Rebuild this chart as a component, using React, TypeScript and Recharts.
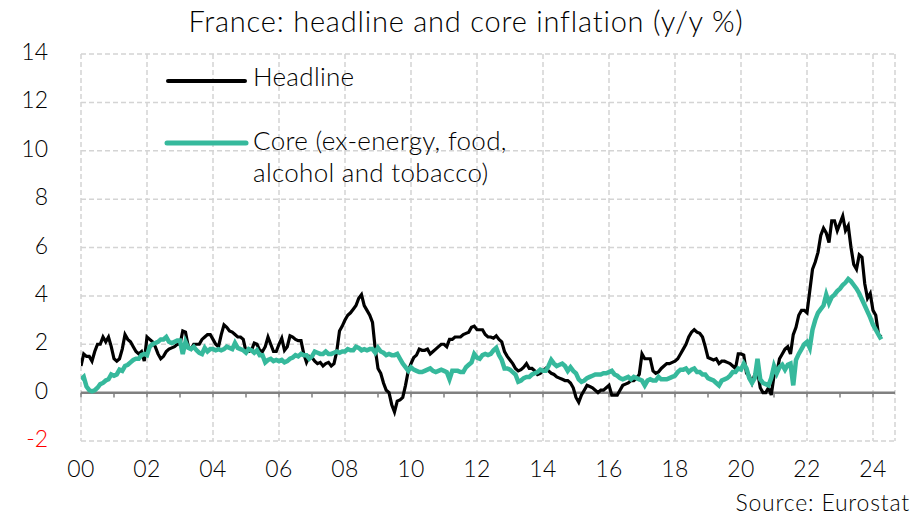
import React from 'react';
import { LineChart, Line, XAxis, YAxis, CartesianGrid, ReferenceLine, Legend } from 'recharts';

const startYear = 2000;

const headline = [
  1.1, 1.6, 1.5, 1.5, 1.3, 1.7, 2.0, 2.0, 2.3, 2.1, 2.3, 1.9,
  1.4, 1.3, 1.4, 1.8, 2.4, 2.2, 2.1, 1.9, 1.7, 1.6, 1.7, 1.3,
  2.3, 2.2, 2.1, 1.9, 1.6, 1.4, 1.5, 1.7, 1.8, 1.85, 1.9, 2.0,
  2.0, 2.55, 2.5, 1.9, 1.8, 2.0, 2.0, 2.0, 2.2, 2.3, 2.4, 2.4,
  2.2, 2.0, 1.9, 2.4, 2.8, 2.7, 2.55, 2.5, 2.4, 2.3, 2.3, 2.2,
  1.7, 1.7, 1.75, 2.05, 2.0, 1.75, 1.7, 1.9, 2.3, 2.0, 1.7, 1.7,
  2.0, 2.25, 1.75, 1.9, 2.35, 2.3, 2.2, 2.15, 2.15, 1.6, 1.25, 1.5,
  1.45, 1.3, 1.2, 1.25, 1.1, 1.2, 1.25, 1.1, 1.2, 1.7, 2.55, 2.75,
  3.0, 3.2, 3.3, 3.45, 3.6, 3.9, 4.05, 3.6, 3.4, 3.2, 2.9, 1.8,
  1.0, 0.8, 0.4, 0.1, 0.0, -0.5, -0.8, -0.35, -0.3, -0.2, 0.3, 0.9,
  1.2, 1.45, 1.55, 1.8, 1.75, 1.75, 1.8, 1.6, 1.7, 1.8, 1.9, 2.0,
  2.0, 1.9, 2.2, 2.2, 2.3, 2.3, 2.3, 2.4, 2.45, 2.5, 2.7, 2.75,
  2.6, 2.6, 2.6, 2.4, 2.3, 2.3, 2.25, 2.35, 2.2, 2.1, 1.7, 1.5,
  1.35, 1.2, 1.0, 0.9, 0.95, 1.05, 1.2, 1.0, 1.0, 0.9, 0.75, 0.8,
  0.9, 1.0, 0.9, 0.8, 0.75, 0.65, 0.6, 0.55, 0.5, 0.5, 0.4, 0.2,
  -0.2, -0.4, -0.1, 0.1, 0.3, 0.25, 0.2, 0.1, 0.0, 0.1, 0.1, 0.2,
  0.3, -0.1, -0.1, -0.1, 0.1, 0.3, 0.35, 0.4, 0.5, 0.5, 0.6, 0.75,
  1.6, 1.4, 1.4, 1.4, 0.9, 0.8, 0.85, 1.0, 1.1, 1.2, 1.2, 1.25,
  1.3, 1.4, 1.6, 1.8, 2.0, 2.3, 2.5, 2.6, 2.5, 2.45, 2.3, 1.9,
  1.45, 1.4, 1.35, 1.4, 1.2, 1.3, 1.3, 1.25, 1.2, 1.1, 1.0, 1.6,
  1.6, 1.55, 0.8, 0.7, 0.4, 0.75, 0.9, 0.2, 0.0, 0.0, 0.2, -0.1,
  0.7, 0.8, 1.4, 1.6, 1.8, 1.9, 1.6, 2.4, 2.7, 3.2, 3.4, 3.4,
  3.3, 4.2, 5.1, 5.4, 5.8, 6.5, 6.8, 6.6, 6.2, 7.1, 7.1, 6.7,
  7.0, 7.3, 6.7, 6.9, 6.0, 5.3, 5.1, 5.7, 5.6, 4.5, 3.9, 4.1,
  3.4, 3.2, 2.4, 2.3,
];

const core = [
  0.55, 0.65, 0.25, 0.1, 0.05, 0.1, 0.2, 0.35, 0.4, 0.5, 0.55, 0.75,
  0.7, 0.75, 0.95, 0.9, 1.1, 1.15, 1.25, 1.35, 1.4, 1.4, 1.55, 1.6,
  1.55, 1.9, 2.0, 2.05, 2.1, 2.2, 2.2, 2.3, 2.1, 2.05, 2.1, 2.15,
  2.15, 1.6, 2.1, 1.85, 1.8, 1.9, 1.75, 1.65, 1.6, 1.85, 1.7, 1.8,
  1.8, 1.75, 1.8, 1.75, 1.8, 1.9, 1.85, 1.8, 2.05, 1.85, 1.8, 1.75,
  1.65, 1.8, 1.75, 1.65, 1.75, 1.55, 1.55, 1.25, 1.35, 1.4, 1.3, 1.35,
  1.3, 1.35, 1.25, 1.3, 1.4, 1.45, 1.55, 1.5, 1.6, 1.55, 1.55, 1.4,
  1.5, 1.7, 1.65, 1.6, 1.6, 1.7, 1.6, 1.6, 1.65, 1.7, 1.65, 1.7,
  1.7, 1.8, 1.75, 1.75, 1.9, 1.85, 1.75, 1.8, 1.75, 1.8, 1.8, 1.65,
  1.85, 1.7, 1.65, 1.55, 1.6, 1.55, 1.55, 1.6, 1.4, 1.2, 1.05, 0.9,
  1.05, 0.95, 0.9, 0.85, 0.85, 0.9, 0.95, 1.0, 0.9, 0.85, 0.9, 0.95,
  0.9, 0.85, 0.55, 0.9, 0.9, 0.9, 0.85, 0.85, 1.05, 1.15, 1.25, 1.6,
  1.45, 1.4, 1.55, 1.6, 1.55, 1.6, 1.75, 1.85, 1.55, 1.35, 1.0, 1.0,
  0.95, 0.85, 0.75, 0.45, 0.5, 0.6, 0.65, 0.65, 0.75, 0.8, 0.85, 0.95,
  0.9, 0.9, 1.1, 1.35, 1.2, 1.1, 1.15, 1.2, 1.1, 0.9, 1.05, 0.9,
  0.8, 0.55, 0.45, 0.5, 0.6, 0.65, 0.7, 0.75, 0.75, 0.75, 0.8, 0.8,
  0.85, 0.9, 0.75, 0.7, 0.6, 0.55, 0.6, 0.65, 0.55, 0.65, 0.6, 0.55,
  0.5, 0.3, 0.5, 0.55, 0.5, 0.5, 0.65, 0.55, 0.55, 0.55, 0.6, 0.65,
  0.7, 0.85, 0.95, 0.95, 1.0, 0.85, 0.95, 1.0, 0.85, 0.85, 0.75, 0.75,
  0.6, 0.55, 0.5, 0.4, 0.3, 0.5, 0.55, 0.6, 0.7, 0.85, 0.85, 1.0,
  0.95, 1.2, 1.0, 0.6, 0.4, 0.6, 1.4, 0.55, 0.4, 0.35, 0.3, 0.6,
  1.1, 0.8, 1.05, 1.15, 0.95, 1.15, 1.2, 0.3, 1.35, 1.6, 1.8, 2.0,
  2.1, 1.85, 2.6, 3.0, 3.3, 3.45, 3.6, 4.05, 3.7, 3.95, 4.05, 4.2,
  4.3, 4.45, 4.55, 4.7, 4.6, 4.45, 4.3, 4.1, 3.85, 3.6, 3.35, 3.1,
  2.8, 2.6, 2.4, 2.2,
];

const xTicks = [2000, 2002, 2004, 2006, 2008, 2010, 2012, 2014, 2016, 2018, 2020, 2022, 2024];
const yTicks = [-2, 0, 2, 4, 6, 8, 10, 12, 14];
const yearMarks = Array.from({ length: 25 }, (_, i) => startYear + i);

const titleText = 'France: headline and core inflation (y/y %)';
const sourceText = 'Source: Eurostat';
const headlineLabel = ['Headline'];
const coreLabel = ['Core (ex-energy, food,', 'alcohol and tobacco)'];

const BLACK = '#000000';
const TEAL = '#36b99c';
const TEXT = '#000000';
const FONT = 'Lato, "Open Sans", sans-serif';
const WEIGHT = 300;

const data = headline.map((h, i) => ({ t: startYear + i / 12, headline: h, core: core[i] }));

const XTick = (props: any) => {
  const { x, y, payload } = props;
  const label = String(payload.value).slice(2);
  return (
    <text x={x} y={y + 28} textAnchor="middle" fontSize={23} fill={TEXT} fontFamily={FONT} fontWeight={WEIGHT} letterSpacing={0.5}>
      {label}
    </text>
  );
};

const YTick = (props: any) => {
  const { y, payload } = props;
  return (
    <text x={48} y={y + 6} textAnchor="end" fontSize={23} fill={payload.value < 0 ? '#ff0000' : TEXT} fontFamily={FONT} fontWeight={WEIGHT}>
      {payload.value}
    </text>
  );
};

const renderLegend = () => (
  <svg width={380} height={135} style={{ display: 'block' }}>
    <line x1={8} y1={26} x2={85} y2={26} stroke={BLACK} strokeWidth={4} strokeLinecap="round" />
    {headlineLabel.map((t, i) => (
      <text key={t} x={93} y={31 + i * 31} fontSize={26} fill={TEXT} fontFamily={FONT} fontWeight={WEIGHT} letterSpacing={0.3}>{t}</text>
    ))}
    <line x1={7} y1={88} x2={86} y2={88} stroke={TEAL} strokeWidth={5} strokeLinecap="round" />
    {coreLabel.map((t, i) => (
      <text key={t} x={93} y={95 + i * 31.5} fontSize={26} fill={TEXT} fontFamily={FONT} fontWeight={WEIGHT} letterSpacing={0.3}>{t}</text>
    ))}
  </svg>
);

export default function App() {
  return (
    <div style={{ position: 'absolute', left: 0, top: 0, width: 921, height: 516, background: '#fff', fontFamily: FONT }}>
      <LineChart width={921} height={516} data={data} margin={{ top: 54, right: 26, bottom: 35, left: 0 }}>
        <CartesianGrid stroke="#d4d4d4" strokeDasharray="5 3" strokeWidth={1.5} />
        <XAxis
          dataKey="t"
          type="number"
          domain={[2000, 2024 + 8 / 12]}
          ticks={xTicks}
          tick={<XTick />}
          axisLine={false}
          tickLine={false}
          height={40}
          interval={0}
          allowDataOverflow
        />
        <YAxis
          type="number"
          domain={[-2, 14]}
          ticks={yTicks}
          tick={<YTick />}
          axisLine={false}
          tickLine={false}
          width={81}
          interval={0}
        />
        <ReferenceLine y={0} stroke="#808080" strokeWidth={2.5} ifOverflow="extendDomain" />
        {yearMarks.map((yr) => (
          <ReferenceLine
            key={yr}
            segment={[{ x: yr, y: 0 }, { x: yr, y: -0.2 }]}
            stroke="#808080"
            strokeWidth={1.5}
          />
        ))}
        <Legend
          layout="horizontal"
          verticalAlign="middle"
          align="center"
          content={renderLegend}
          wrapperStyle={{ position: 'absolute', left: 160, top: 55, width: 380, height: 135 }}
        />
        <Line type="linear" dataKey="headline" stroke={BLACK} strokeWidth={3.2} dot={false} isAnimationActive={false} />
        <Line type="linear" dataKey="core" stroke={TEAL} strokeWidth={4.5} dot={false} isAnimationActive={false} />
      </LineChart>
      <svg width={921} height={516} style={{ position: 'absolute', left: 0, top: 0, pointerEvents: 'none' }}>
        <text x={466} y={32} textAnchor="middle" fontSize={29} fill={TEXT} fontFamily={FONT} fontWeight={WEIGHT} letterSpacing={0.8}>{titleText}</text>
        <text x={910} y={511} textAnchor="end" fontSize={23} fill={TEXT} fontFamily={FONT} fontWeight={WEIGHT} letterSpacing={0.8}>{sourceText}</text>
      </svg>
    </div>
  );
}
